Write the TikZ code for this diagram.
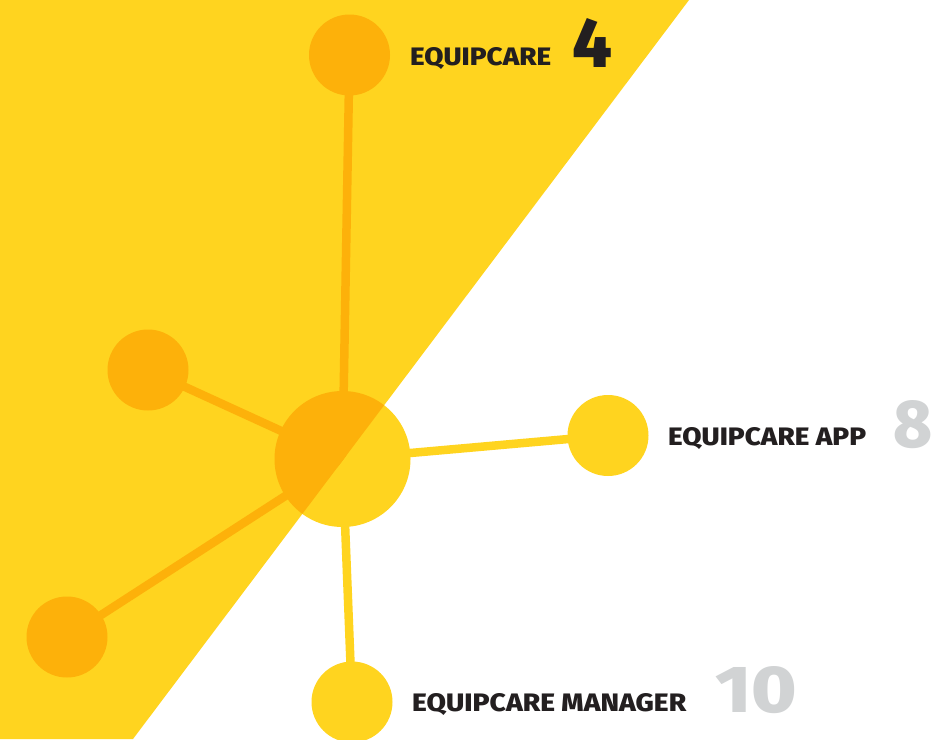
\documentclass[tikz,border=0pt]{standalone}
\usepackage{fontspec}
\usepackage{graphicx}
\setmainfont{Fira Sans}
\newfontfamily\heavyfont{Fira Sans}[UprightFont={* ExtraBold}]
\definecolor{yel}{HTML}{FFD41F}
\definecolor{org}{HTML}{FDB10A}
\definecolor{ink}{HTML}{231F20}
\definecolor{gry}{HTML}{D1D3D4}
\tikzset{
  hub/.style={circle, inner sep=0pt, minimum size=136pt},
  leaf/.style={circle, inner sep=0pt, minimum size=81pt},
  spoke/.style={line width=8.5pt},
  lbl/.style={anchor=base west, inner sep=0pt, text=ink, font=\heavyfont},
  num/.style={anchor=base west, inner sep=0pt, font=\heavyfont}
}
\begin{document}
\begin{tikzpicture}[x=1pt,y=-1pt]
\useasboundingbox (0,0) rectangle (936,739);
\fill[white] (0,0) rectangle (936,739);
\fill[yel] (0,0) -- (689,0) -- (133,739) -- (0,739) -- cycle;
% nodes
\node[hub]  (c)  at (342.5,459) {};
\node[leaf] (t)  at (349.5,55) {};
\node[leaf] (l)  at (148,370) {};
\node[leaf] (bl) at (67,637) {};
\node[leaf] (r)  at (608,435.5) {};
\node[leaf] (b)  at (352,702) {};
% yellow layer
\begin{scope}[yel]
\draw[spoke] (c.center) -- (t.center);
\draw[spoke] (c.center) -- (l.center);
\draw[spoke] (c.center) -- (bl.center);
\draw[spoke] (c.center) -- (r.center);
\draw[spoke] (c.center) -- (b.center);
\fill (c.center) circle (68);
\foreach \n in {t,l,bl,r,b} \fill (\n.center) circle (40.5);
\end{scope}
% orange layer clipped to the triangle
\begin{scope}
\clip (0,0) -- (689,0) -- (133,739) -- (0,739) -- cycle;
\draw[spoke,org] (c.center) -- (t.center);
\draw[spoke,org] (c.center) -- (l.center);
\draw[spoke,org] (c.center) -- (bl.center);
\draw[spoke,org] (c.center) -- (r.center);
\draw[spoke,org] (c.center) -- (b.center);
\fill[org] (c.center) circle (68);
\foreach \n in {t,l,bl,r,b} \fill[org] (\n.center) circle (40.5);
\end{scope}
% labels
\node[lbl] (tl) at (410,65) {\resizebox{141pt}{18pt}{EQUIPCARE}};
\node[num,text=ink] (tn) at (572,67) {\resizebox{40pt}{49pt}{4}};
\node[lbl] (rl) at (668,445) {\resizebox{198pt}{18pt}{EQUIPCARE APP}};
\node[num,text=gry] (rn) at (893,447) {\resizebox{39pt}{47pt}{8}};
\node[lbl] (bbl) at (412,711) {\resizebox{274pt}{18pt}{EQUIPCARE MANAGER}};
\node[num,text=gry] (bn) at (715,712) {\resizebox{82pt}{46pt}{10}};
\end{tikzpicture}
\end{document}
